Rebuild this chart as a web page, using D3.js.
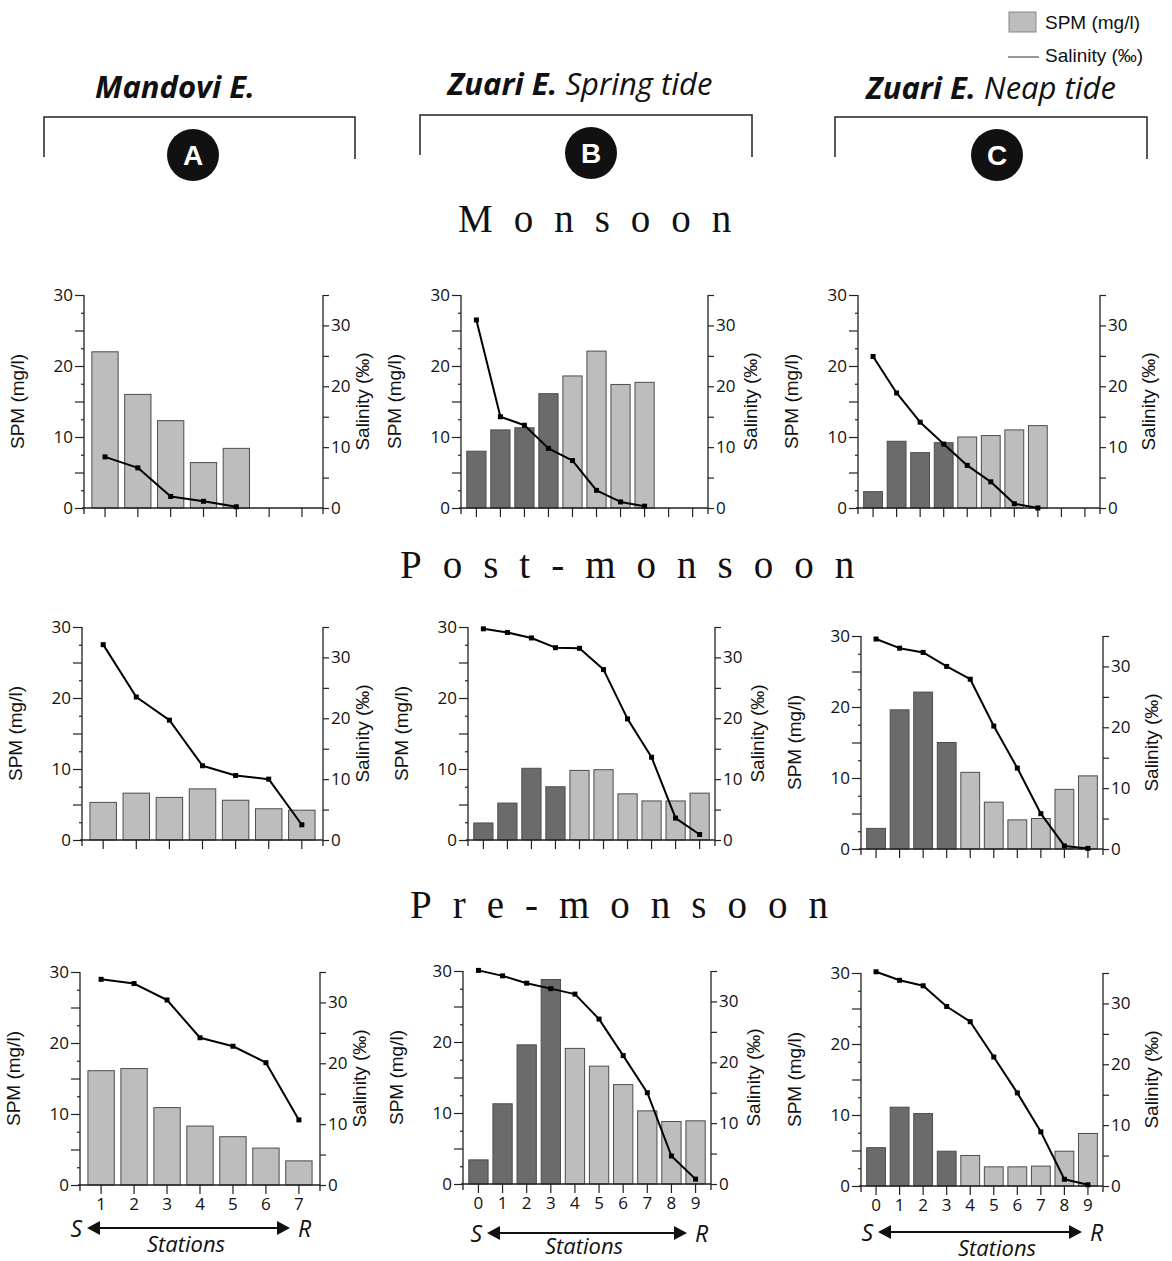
<!DOCTYPE html>
<html>
<head>
<meta charset="utf-8">
<script src="https://cdn.jsdelivr.net/npm/d3@7"></script>
<style>
  body { margin: 0; background: #fff; }
  text { fill: #111; }
</style>
</head>
<body>
<svg id="chart" width="1172" height="1261"></svg>
<script>
// stations along each estuary (S = sea end, R = river end)
let stations_mandovi = [1, 2, 3, 4, 5, 6, 7];
let stations_zuari = [0, 1, 2, 3, 4, 5, 6, 7, 8, 9];
// Zuari stations drawn with the darker bars
let dark_stations_zuari = [0, 1, 2, 3];

let seasons = ['Monsoon', 'Post-monsoon', 'Pre-monsoon'];
let estuary_names = [['Mandovi E.', ''], ['Zuari E.', ' Spring tide'], ['Zuari E.', ' Neap tide']];
let panel_letters = ['A', 'B', 'C'];

let spm_ticks = [0, 10, 20, 30];
let sal_ticks = [0, 10, 20, 30];

// Mandovi estuary
let spm_mandovi_mon = [22.0, 16.0, 12.3, 6.4, 8.4];
let sal_mandovi_mon = [8.4, 6.6, 1.9, 1.1, 0.2];
let spm_mandovi_post = [5.3, 6.6, 6.0, 7.2, 5.6, 4.4, 4.2];
let sal_mandovi_post = [32.1, 23.5, 19.7, 12.2, 10.6, 10.0, 2.5];
let spm_mandovi_pre = [16.1, 16.4, 10.9, 8.3, 6.8, 5.2, 3.4];
let sal_mandovi_pre = [33.8, 33.1, 30.4, 24.2, 22.8, 20.1, 10.7];

// Zuari estuary, spring tide
let spm_spring_mon = [8.0, 11.0, 11.3, 16.1, 18.6, 22.1, 17.4, 17.7];
let sal_spring_mon = [30.9, 15.0, 13.6, 9.8, 7.8, 2.9, 1.0, 0.3];
let spm_spring_post = [2.4, 5.2, 10.1, 7.5, 9.8, 9.9, 6.5, 5.5, 5.5, 6.6];
let sal_spring_post = [34.7, 34.1, 33.2, 31.6, 31.5, 28.0, 19.9, 13.6, 3.6, 0.9];
let spm_spring_pre = [3.4, 11.3, 19.6, 28.8, 19.1, 16.6, 14.0, 10.3, 8.8, 8.9];
let sal_spring_pre = [35.1, 34.2, 33.0, 32.1, 31.2, 27.1, 21.1, 15.0, 4.6, 0.8];

// Zuari estuary, neap tide
let spm_neap_mon = [2.3, 9.4, 7.8, 9.2, 10.0, 10.2, 11.0, 11.6];
let sal_neap_mon = [24.9, 18.9, 14.1, 10.5, 7.0, 4.3, 0.7, 0.0];
let spm_neap_post = [2.9, 19.6, 22.1, 15.0, 10.8, 6.6, 4.1, 4.3, 8.4, 10.3];
let sal_neap_post = [34.5, 33.0, 32.3, 30.0, 27.9, 20.2, 13.3, 5.8, 0.5, 0.1];
let spm_neap_pre = [5.4, 11.1, 10.2, 4.9, 4.3, 2.7, 2.7, 2.8, 4.9, 7.4];
let sal_neap_pre = [35.2, 33.8, 32.9, 29.5, 27.0, 21.2, 15.3, 8.9, 1.1, 0.2];

// rows = seasons, cols = estuary
let panel_spm = [
	[spm_mandovi_mon, spm_spring_mon, spm_neap_mon],
	[spm_mandovi_post, spm_spring_post, spm_neap_post],
	[spm_mandovi_pre, spm_spring_pre, spm_neap_pre]
];
let panel_sal = [
	[sal_mandovi_mon, sal_spring_mon, sal_neap_mon],
	[sal_mandovi_post, sal_spring_post, sal_neap_post],
	[sal_mandovi_pre, sal_spring_pre, sal_neap_pre]
];
let panel_stations = [stations_mandovi, stations_zuari, stations_zuari];

// layout (left axis, right axis, baseline) for each panel
let panel_box = [
	[{l: 84, r: 323, b: 508}, {l: 461, r: 708, b: 508}, {l: 858, r: 1100, b: 508}],
	[{l: 82, r: 323, b: 840}, {l: 468, r: 715, b: 840}, {l: 861, r: 1103, b: 849}],
	[{l: 80, r: 320, b: 1185}, {l: 463, r: 711, b: 1184}, {l: 861, r: 1103, b: 1186}]
];
let plot_h = 213;
let sal_title_dx = [46, 49, 55];
// S <-> R arrow under each column
let arrow_pos = [
	{x1: 87, x2: 290, y: 1228, tx: 186, ty: 1252},
	{x1: 487, x2: 687, y: 1233, tx: 584, ty: 1254},
	{x1: 878, x2: 1082, y: 1232, tx: 997, ty: 1256}
];

let light_color = '#bdbdbd',
	dark_color = '#6b6b6b',
	bar_stroke = '#4d4d4d',
	axis_color = '#222';

let num_font = "'Open Sans', sans-serif";
let label_font = "'Liberation Sans', Arial, sans-serif";

let svg = d3.select('#chart');

// ---- headers ----
let header_pos = [
	{tx: 175, ty: 98, l: 44, r: 355, y: 117, cx: 193, cy: 155},
	{tx: 580, ty: 95, l: 420, r: 752, y: 115, cx: 591, cy: 153},
	{tx: 991, ty: 99, l: 835, r: 1147, y: 117, cx: 997, cy: 155}
];

header_pos.forEach(function(h, i) {
	let t = svg.append('text')
		.attr('x', h.tx)
		.attr('y', h.ty)
		.attr('text-anchor', 'middle')
		.style('font-family', num_font)
		.style('font-style', 'italic')
		.style('font-size', '31px');
	t.append('tspan').style('font-weight', 700).text(estuary_names[i][0]);
	t.append('tspan').style('font-weight', 400).text(estuary_names[i][1]);

	svg.append('path')
		.attr('d', `M${h.l},${h.y + 40}V${h.y}H${h.r}V${h.y + 42}`)
		.attr('fill', 'none')
		.attr('stroke', '#222')
		.attr('stroke-width', 1.5);

	svg.append('circle')
		.attr('cx', h.cx)
		.attr('cy', h.cy)
		.attr('r', 26)
		.attr('fill', '#111');
	svg.append('text')
		.attr('x', h.cx)
		.attr('y', h.cy + 10)
		.attr('text-anchor', 'middle')
		.style('font-family', label_font)
		.style('font-weight', 700)
		.style('font-size', '28px')
		.style('fill', '#fff')
		.text(panel_letters[i]);
});

// ---- season titles ----
let season_pos = [{x: 458, y: 232}, {x: 400, y: 578}, {x: 410, y: 918}];
seasons.forEach(function(s, i) {
	svg.append('text')
		.attr('x', season_pos[i].x)
		.attr('y', season_pos[i].y)
		.style('font-family', "'Liberation Serif', 'Times New Roman', serif")
		.style('font-size', '39px')
		.style('letter-spacing', '21px')
		.text(s);
});

// ---- legend ----
svg.append('rect')
	.attr('x', 1009).attr('y', 12)
	.attr('width', 27).attr('height', 20)
	.attr('fill', light_color)
	.attr('stroke', '#888');
svg.append('text')
	.attr('x', 1045).attr('y', 29)
	.style('font-family', label_font)
	.style('font-size', '19px')
	.text('SPM (mg/l)');
svg.append('line')
	.attr('x1', 1008).attr('x2', 1039)
	.attr('y1', 57).attr('y2', 57)
	.attr('stroke', '#333');
svg.append('text')
	.attr('x', 1045).attr('y', 62)
	.style('font-family', label_font)
	.style('font-size', '19px')
	.text('Salinity (‰)');

// ---- panels ----
function render_panel(row, col) {
	let box = panel_box[row][col];
	let stations = panel_stations[col];
	let spm = panel_spm[row][col];
	let sal = panel_sal[row][col];
	let is_bottom = row === seasons.length - 1;

	let x = d3.scaleBand()
		.domain(stations)
		.range([box.l, box.r])
		.paddingInner(0.2)
		.paddingOuter(0.24);
	let y_spm = d3.scaleLinear()
		.domain([0, 30])
		.range([box.b, box.b - plot_h]);
	let y_sal = d3.scaleLinear()
		.domain([0, 35])
		.range([box.b, box.b - plot_h]);

	let g = svg.append('g').attr('class', 'panel');

	// bars
	g.selectAll('.spm-bar')
		.data(spm)
		.enter()
		.append('rect')
		.attr('class', 'spm-bar')
		.attr('x', (d, i) => x(stations[i]))
		.attr('y', d => y_spm(d))
		.attr('width', x.bandwidth())
		.attr('height', d => y_spm(0) - y_spm(d))
		.attr('fill', (d, i) => (col > 0 && dark_stations_zuari.includes(stations[i])) ? dark_color : light_color)
		.attr('stroke', bar_stroke)
		.attr('stroke-width', 1);

	// left axis: major every 5, minor every 2.5
	let left_major = d3.axisLeft(y_spm)
		.tickValues(d3.range(0, 30.1, 5))
		.tickFormat(d => spm_ticks.includes(d) ? d : '')
		.tickSize(9)
		.tickSizeOuter(0)
		.tickPadding(2);
	let left_minor = d3.axisLeft(y_spm)
		.tickValues(d3.range(2.5, 30, 5))
		.tickFormat('')
		.tickSize(3);

	g.append('g').attr('transform', `translate(${box.l},0)`).call(left_major)
		.call(a => a.select('.domain').remove());
	g.append('g').attr('transform', `translate(${box.l},0)`).call(left_minor)
		.call(a => a.select('.domain').remove());

	// right axis
	let right_axis = d3.axisRight(y_sal)
		.tickValues(d3.range(0, 35.1, 5))
		.tickFormat(d => sal_ticks.includes(d) ? d : '')
		.tickSize(6)
		.tickPadding(2);
	g.append('g').attr('transform', `translate(${box.r},0)`).call(right_axis)
		.call(a => a.select('.domain').remove());

	// bottom axis
	let bottom_axis = d3.axisBottom(x)
		.tickSize(9)
		.tickPadding(4)
		.tickFormat(is_bottom ? (d => d) : '');
	g.append('g').attr('transform', `translate(0,${box.b})`).call(bottom_axis)
		.call(a => a.select('.domain').remove());

	// axis lines (slightly overshooting the baseline like the original)
	g.append('path')
		.attr('d', `M${box.l},${box.b - plot_h}V${box.b + 6}M${box.r},${box.b - plot_h}V${box.b + 6}M${box.l - 2},${box.b}H${box.r}`)
		.attr('fill', 'none')
		.attr('stroke', axis_color)
		.attr('stroke-width', 1.3);

	g.selectAll('.tick line').attr('stroke', axis_color).attr('stroke-width', 1.2);
	g.selectAll('.tick text')
		.attr('font-size', null)
		.attr('font-family', null)
		.style('font-family', num_font)
		.style('font-size', '17px')
		.style('fill', '#111');

	// salinity line
	let line = d3.line()
		.x((d, i) => x(stations[i]) + x.bandwidth() / 2)
		.y(d => y_sal(d));

	g.append('path')
		.datum(sal)
		.attr('d', line)
		.attr('fill', 'none')
		.attr('stroke', '#000')
		.attr('stroke-width', 2)
		.attr('stroke-linejoin', 'round');

	g.selectAll('.sal-point')
		.data(sal)
		.enter()
		.append('rect')
		.attr('class', 'sal-point')
		.attr('x', (d, i) => x(stations[i]) + x.bandwidth() / 2 - 2.5)
		.attr('y', d => y_sal(d) - 2.5)
		.attr('width', 5)
		.attr('height', 5)
		.attr('fill', '#000');

	// axis titles
	let mid = box.b - plot_h / 2;
	g.append('text')
		.attr('transform', `translate(${box.l - 60},${mid}) rotate(-90)`)
		.attr('text-anchor', 'middle')
		.style('font-family', label_font)
		.style('font-size', '19px')
		.text('SPM (mg/l)');
	g.append('text')
		.attr('transform', `translate(${box.r + sal_title_dx[col]},${mid}) rotate(-90)`)
		.attr('text-anchor', 'middle')
		.style('font-family', label_font)
		.style('font-size', '19px')
		.text('Salinity (‰)');

	if (is_bottom) {
		let a = arrow_pos[col];
		g.append('line')
			.attr('x1', a.x1 + 8).attr('x2', a.x2 - 8)
			.attr('y1', a.y).attr('y2', a.y)
			.attr('stroke', '#111')
			.attr('stroke-width', 1.8);
		g.append('path')
			.attr('d', `M${a.x1},${a.y}l13,-7v14zM${a.x2},${a.y}l-13,-7v14z`)
			.attr('fill', '#111');
		g.append('text')
			.attr('x', a.x1 - 5).attr('y', a.y + 9)
			.attr('text-anchor', 'end')
			.style('font-family', num_font)
			.style('font-style', 'italic')
			.style('font-size', '23px')
			.text('S');
		g.append('text')
			.attr('x', a.x2 + 8).attr('y', a.y + 9)
			.style('font-family', num_font)
			.style('font-style', 'italic')
			.style('font-size', '23px')
			.text('R');
		g.append('text')
			.attr('x', a.tx).attr('y', a.ty)
			.attr('text-anchor', 'middle')
			.style('font-family', num_font)
			.style('font-style', 'italic')
			.style('font-size', '22px')
			.text('Stations');
	}
}

for (let r = 0; r < seasons.length; r++) {
	for (let c = 0; c < 3; c++) {
		render_panel(r, c);
	}
}
</script>
</body>
</html>
